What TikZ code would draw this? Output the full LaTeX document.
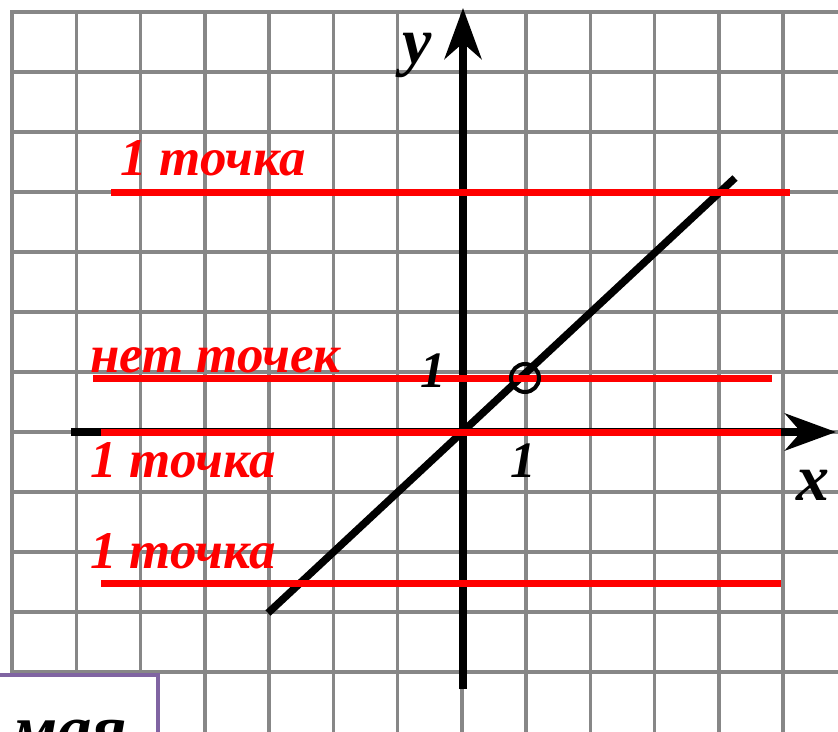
\documentclass[tikz,border=0pt]{standalone}
\usepackage{fontspec}
\setmainfont{Liberation Serif}
\usetikzlibrary{arrows.meta}
\definecolor{gridgray}{RGB}{135,135,135}
\definecolor{boxpurple}{RGB}{128,100,162}
\begin{document}
\begin{tikzpicture}[x=1pt,y=-1pt,
  gridline/.style={draw=gridgray,line width=3.5pt},
  axisline/.style={draw=black,line width=7.5pt},
  redline/.style={draw=red,line width=7pt},
  axisarrow/.style={-{Stealth[length=51pt,width=37pt,inset=16pt]}},
  redlabel/.style={text=red,font=\fontsize{53}{58}\selectfont\bfseries\itshape,inner sep=0pt,anchor=base west},
  unitlabel/.style={text=black,font=\fontsize{51}{56}\selectfont\bfseries\itshape,inner sep=0pt,anchor=base west},
  axislabel/.style={text=black,font=\fontsize{66}{70}\selectfont\bfseries\itshape,inner sep=0pt,anchor=base west},
  boxlabel/.style={text=black,font=\fontsize{69}{72}\selectfont\bfseries\itshape,inner sep=0pt,anchor=base west},
  pointmark/.style={draw=black,line width=4pt}
]
\useasboundingbox (0,0) rectangle (838,731);
\fill[white] (0,0) rectangle (838,731);
\begin{scope}
\clip (0,0) rectangle (838,731);
% grid
\foreach \k in {0,...,12} \draw[gridline] ({12+64.25*\k},12) -- ({12+64.25*\k},735);
\foreach \k in {0,...,11} \draw[gridline] (10,{12+60*\k}) -- (840,{12+60*\k});
% coordinates
\coordinate (yB) at (463,689);
\coordinate (yT) at (463,8);
\coordinate (xL) at (71,432);
\coordinate (xR) at (836,432);
\coordinate (dA) at (268,613);
\coordinate (dB) at (735,178);
\coordinate (r1L) at (111,192); \coordinate (r1R) at (790,192);
\coordinate (r2L) at (93,378);  \coordinate (r2R) at (772,378);
\coordinate (r3L) at (101,432); \coordinate (r3R) at (781,432);
\coordinate (r4L) at (101,583); \coordinate (r4R) at (781,583);
% black lines
\draw[axisline] (dA) -- (dB);
\draw[axisline,axisarrow] (yB) -- (yT);
\draw[axisline,axisarrow] (xL) -- (xR);
% red lines
\draw[redline] (r1L) -- (r1R);
\draw[redline] (r2L) -- (r2R);
\draw[redline] (r3L) -- (r3R);
\draw[redline] (r4L) -- (r4R);
% punctured point
\draw[pointmark] (525,378) circle (14pt);
% labels
\node[redlabel] (t1) at (120,175) {1 точка};
\node[redlabel] (t2) at (90,372) {нет точек};
\node[redlabel] (t3) at (90,477) {1 точка};
\node[redlabel] (t4) at (90,568) {1 точка};
\node[unitlabel] (u1) at (420,387) {1};
\node[unitlabel] (u2) at (510,477) {1};
\node[axislabel] (ly) at (402,63) {y};
\node[axislabel] (lx) at (796,500) {x};
% box
\draw[draw=boxpurple,line width=4pt,fill=white] (-10,675) rectangle (158,745);
\node[boxlabel] (m) at (10,752) {мая};
\end{scope}
\end{tikzpicture}
\end{document}
